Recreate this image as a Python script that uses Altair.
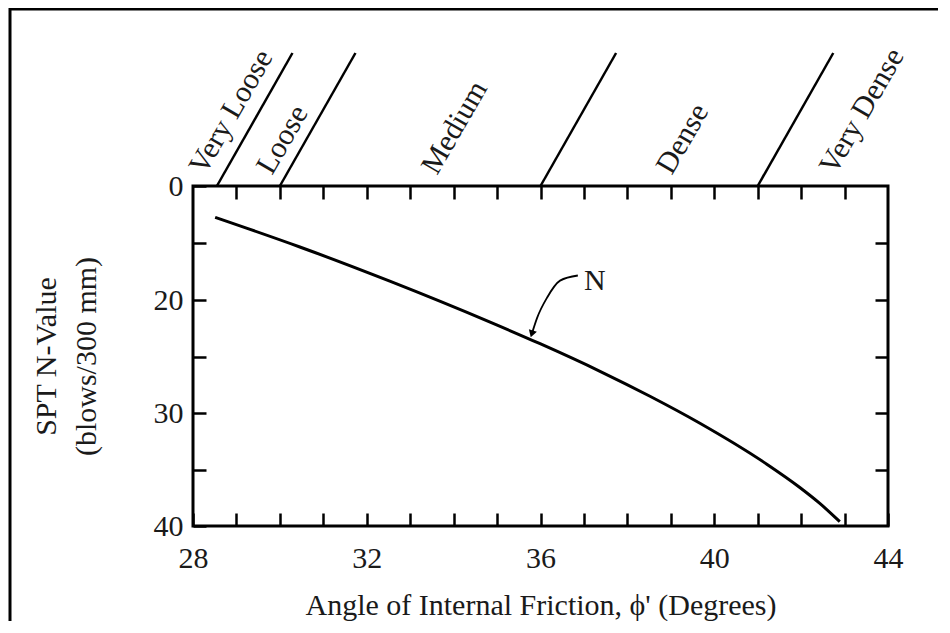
import altair as alt
import pandas as pd

# ---- data ----
phi = [28.51, 30.46, 32.53, 34.84, 35.99, 37.37, 38.52, 39.67, 41.21, 41.97, 42.43, 42.89]
n_value = [5.5, 10.7, 16.7, 21.96, 23.87, 26.31, 28.52, 30.91, 34.53, 36.59, 38.0, 39.62]

boundary_phi = [28.55, 30.0, 36.0, 41.0]
density_labels = ["Very Loose", "Loose", "Medium", "Dense", "Very Dense"]
density_label_phi = [28.27, 29.82, 33.62, 39.02, 42.78]

n_label_phi = [37.25]
n_label_n = [16.7]
n_label_text = ["N"]

arrow_phi = [36.86, 36.45, 36.15, 35.92, 35.80]
arrow_n = [15.7, 16.6, 19.6, 21.6, 23.0]

x_ticks = list(range(28, 45))
x_top_ticks = list(range(29, 44))
y_ticks = [0, 10, 20, 25, 30, 35, 40]
y_right_ticks = [10, 20, 25, 30, 35]

# ---- style ----
FONT = "Liberation Serif"
INK = "#1a1a1a"
W, H = 695, 340
SLANT = 1.74  # horizontal run (degrees of x) of the density boundary strokes

curve_df = pd.DataFrame({"phi": phi, "N": n_value})
bound_df = pd.DataFrame({"phi": boundary_phi, "phi2": [b + SLANT for b in boundary_phi]})
dens_df = pd.DataFrame({"phi": density_label_phi, "label": density_labels})
nlab_df = pd.DataFrame({"phi": n_label_phi, "N": n_label_n, "t": n_label_text})
arrow_df = pd.DataFrame({"phi": arrow_phi, "N": arrow_n, "i": list(range(len(arrow_phi)))})
head_df = arrow_df.tail(1)

xscale = alt.Scale(domain=[28, 44], nice=False, zero=False)
yscale = alt.Scale(domain=[0, 20, 40], range=[0, 114, H], nice=False, zero=False)

common_axis = dict(grid=False, domain=False, tickColor="black", tickWidth=2.5,
                   tickSize=13, offset=-13, labelFont=FONT, labelFontSize=30,
                   labelColor=INK, labelOverlap=False, labelFlush=False, labelBound=False)

x_bottom = alt.Axis(orient="bottom", values=x_ticks,
                    labelExpr="datum.value % 4 == 0 ? datum.label : ''",
                    labelPadding=17,
                    title="Angle of Internal Friction, ϕ' (Degrees)",
                    titleFont=FONT, titleFontSize=30, titleFontWeight="normal",
                    titleColor=INK, titlePadding=17, **common_axis)
x_top = alt.Axis(orient="top", values=x_top_ticks, labels=False, title=None, **common_axis)
y_left = alt.Axis(orient="left", values=y_ticks,
                  labelExpr="(datum.value == 0 || datum.value == 20 || datum.value == 30 || datum.value == 40) ? datum.label : ''",
                  labelPadding=10,
                  title=["SPT N-Value", "(blows/300 mm)"],
                  titleFont=FONT, titleFontSize=30, titleFontWeight="normal",
                  titleColor=INK, titlePadding=52, titleLineHeight=40, **common_axis)
y_right = alt.Axis(orient="right", values=y_right_ticks, labels=False, title=None, **common_axis)

curve = alt.Chart(curve_df).mark_line(color="black", strokeWidth=3, interpolate="monotone").encode(
    x=alt.X("phi:Q", scale=xscale, axis=x_bottom),
    y=alt.Y("N:Q", scale=yscale, axis=y_left),
)

nlabel = alt.Chart(nlab_df).mark_text(font=FONT, fontSize=30, color=INK,
                                       align="center", baseline="middle").encode(
    x=alt.X("phi:Q", scale=xscale, axis=x_top),
    y=alt.Y("N:Q", scale=yscale, axis=y_right),
    text="t:N",
)

arrow = alt.Chart(arrow_df).mark_line(color="black", strokeWidth=1.8, interpolate="monotone").encode(
    x=alt.X("phi:Q", scale=xscale, axis=None),
    y=alt.Y("N:Q", scale=yscale, axis=None),
    order="i:Q",
)
head = alt.Chart(head_df).mark_point(shape="triangle-down", filled=True, color="black",
                                     size=70, angle=17, opacity=1).encode(
    x=alt.X("phi:Q", scale=xscale, axis=None),
    y=alt.Y("N:Q", scale=yscale, axis=None),
)

bounds = alt.Chart(bound_df).mark_rule(color="black", strokeWidth=2.5).encode(
    x=alt.X("phi:Q", scale=xscale, axis=None),
    x2="phi2:Q",
    y=alt.value(0),
    y2=alt.value(-133),
)

dens = alt.Chart(dens_df).mark_text(font=FONT, fontSize=30, color=INK, angle=300,
                                    align="left", baseline="alphabetic").encode(
    x=alt.X("phi:Q", scale=xscale, axis=None),
    y=alt.value(-10),
    text="label:N",
)

border_df = pd.DataFrame({"k": [0]})
left_border = alt.Chart(border_df).mark_rule(color="black", strokeWidth=3).encode(
    x=alt.value(-183), y=alt.value(-178), y2=alt.value(440))
top_border = alt.Chart(border_df).mark_rule(color="black", strokeWidth=3).encode(
    x=alt.value(-184), x2=alt.value(760), y=alt.value(-177))

chart = alt.layer(curve, nlabel, arrow, head, bounds, dens, left_border, top_border).properties(
    width=W, height=H,
    padding={"left": 185, "top": 178, "right": 50, "bottom": 95},
    autosize=alt.AutoSizeParams(type="none"),
    background="white",
).configure_view(stroke="black", strokeWidth=3)

chart.save("out.html", embed_options={"renderer": "svg", "actions": False})
